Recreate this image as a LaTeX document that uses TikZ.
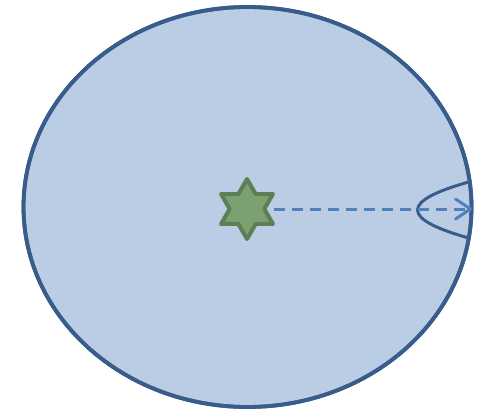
\documentclass[tikz,border=0pt]{standalone}
\usetikzlibrary{arrows.meta,calc}
\definecolor{ellfill}{RGB}{187,205,228}
\definecolor{elldraw}{RGB}{56,93,138}
\definecolor{arrowblue}{RGB}{79,129,189}
\definecolor{starfill}{RGB}{124,160,112}
\definecolor{stardraw}{RGB}{92,127,86}
\tikzset{
  bigell/.style={draw=elldraw,fill=ellfill,line width=3.8pt},
  wave/.style={draw=elldraw,line width=3pt},
  ray/.style={draw=arrowblue,line width=3pt,dash pattern=on 11pt off 7pt,-{Straight Barb[length=15pt,width=20pt,line width=3pt,round]}},
  starshape/.style={draw=stardraw,fill=starfill,line width=4pt,line join=round}
}
\begin{document}
\begin{tikzpicture}[x=1pt,y=-1pt]
\useasboundingbox (0,0) rectangle (481,414);
\draw[bigell] (247.5,207) ellipse [x radius=224, y radius=200];
\begin{scope}
\clip (247.5,207) ellipse [x radius=224, y radius=200];
\draw[wave] (476,180) .. controls (398,200.7) and (398,219.3) .. (476,240);
\end{scope}
\draw[bigell,fill=none] (247.5,207) ellipse [x radius=224, y radius=200];
\coordinate (c) at (247,209);
\draw[starshape] ($(c)+(90:30)$)
  \foreach \i in {0,...,5} { -- ($(c)+(90+60*\i+30:17.3)$) -- ($(c)+(90+60*\i+60:30)$) } -- cycle;
\coordinate (s) at (274,209);
\coordinate (e) at (472,209);
\draw[ray] (s) -- (e);
\end{tikzpicture}
\end{document}
